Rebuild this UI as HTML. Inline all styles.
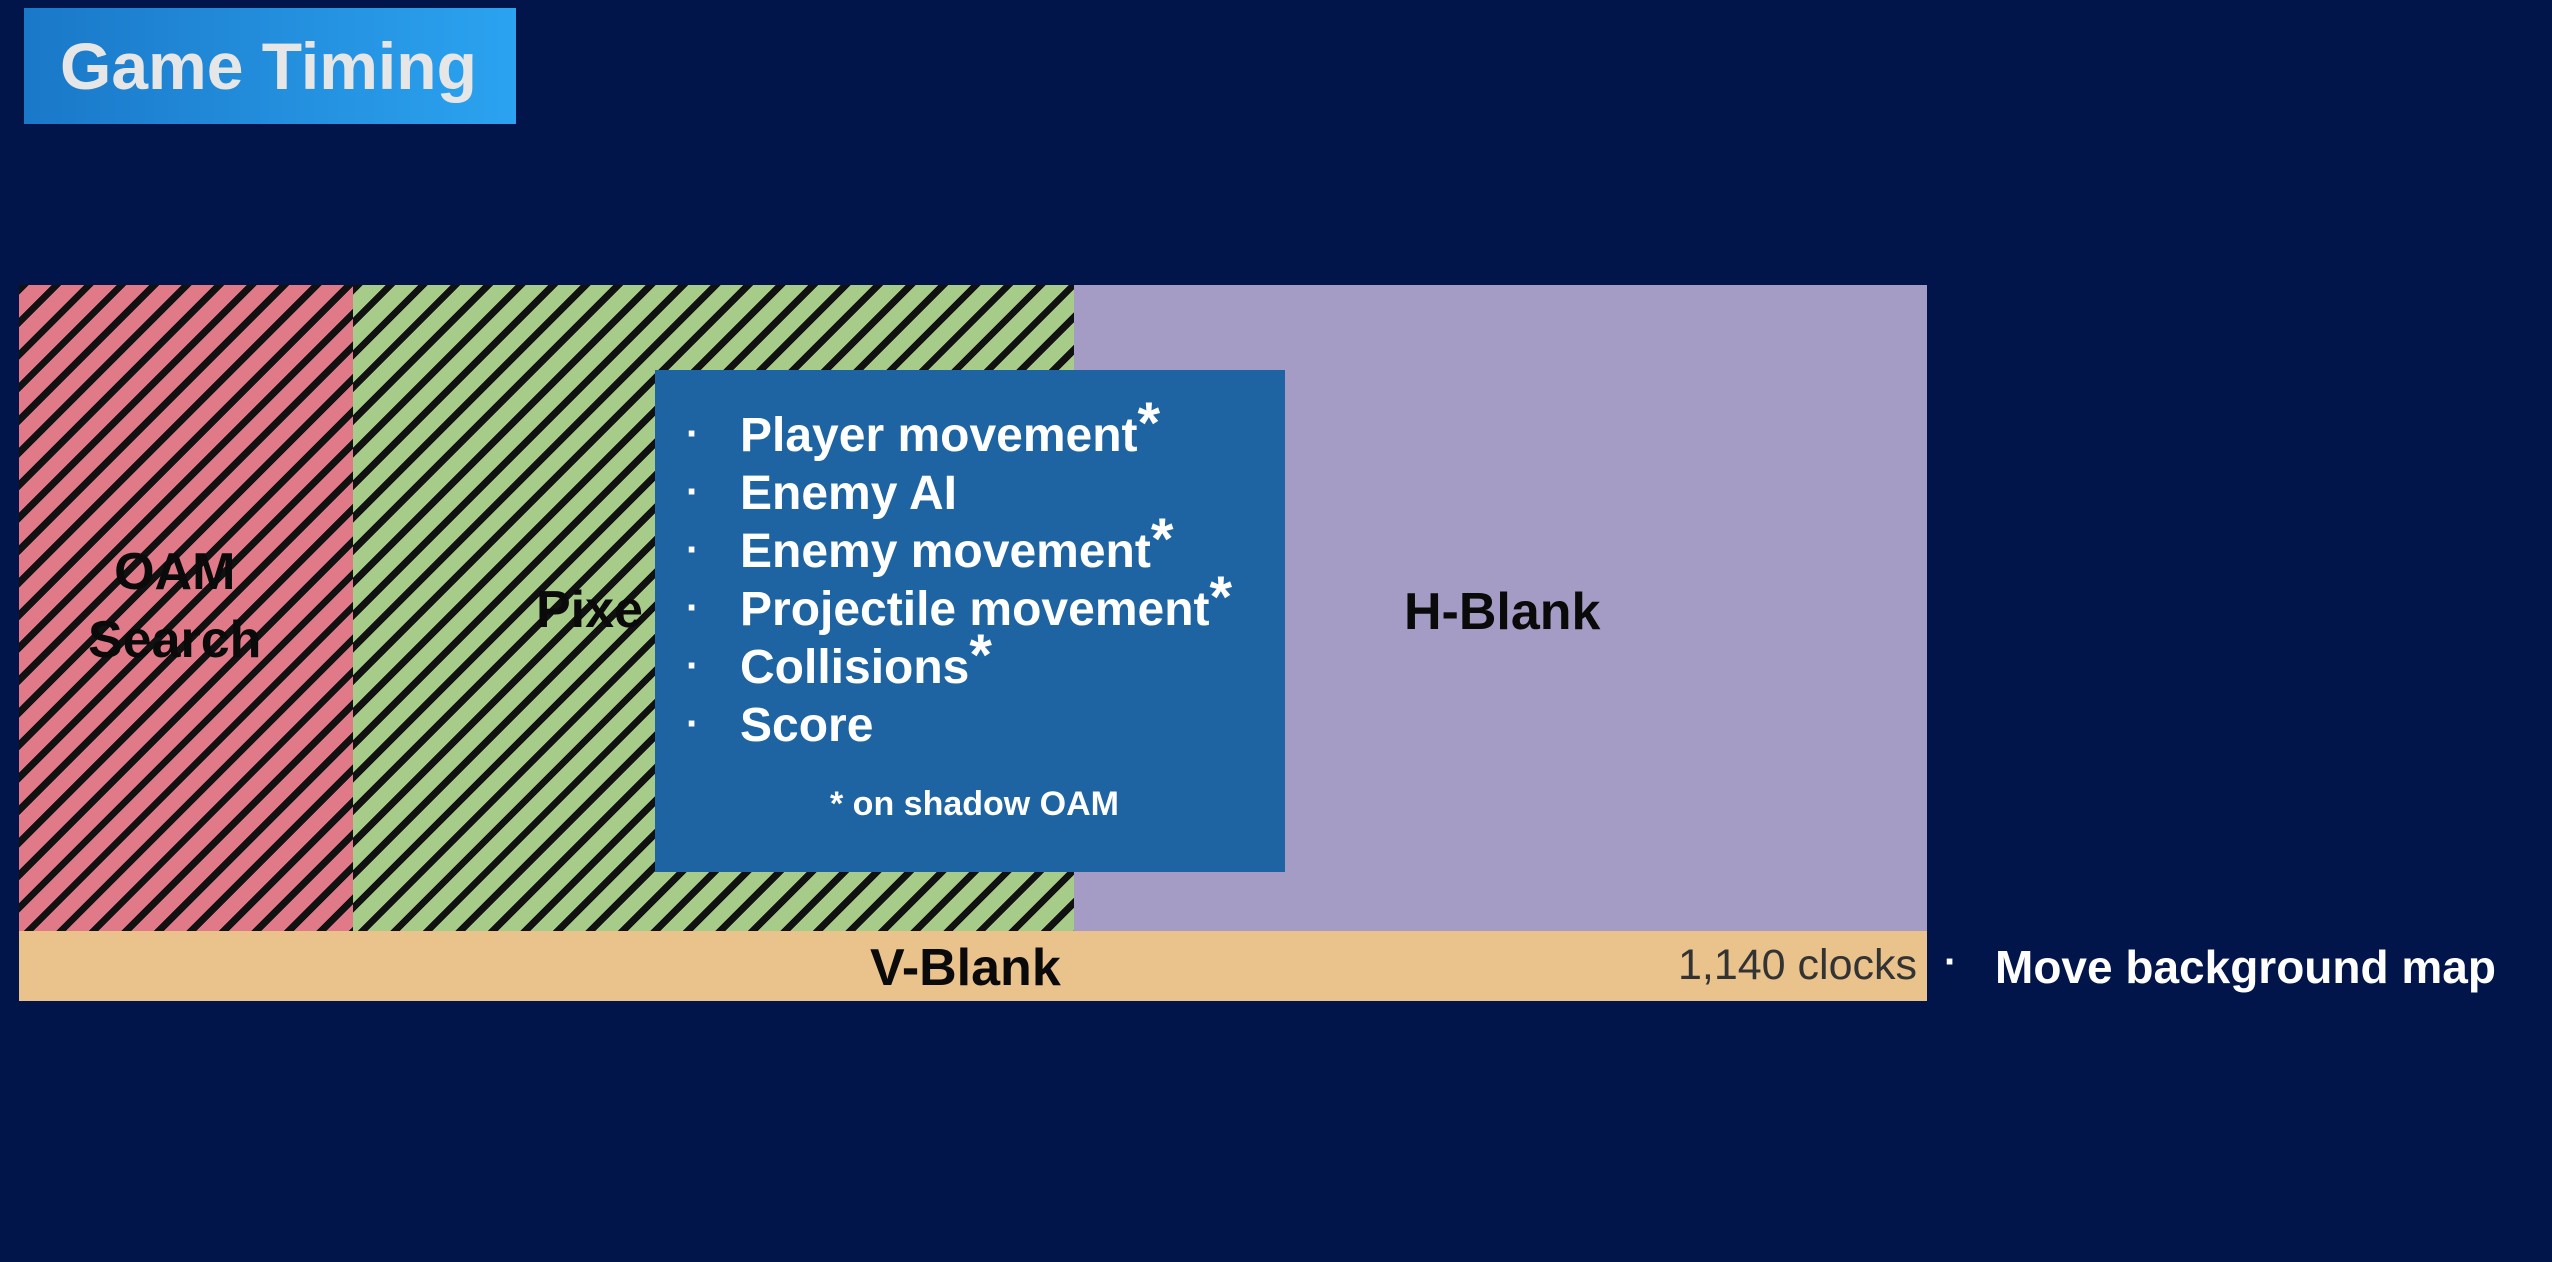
<!DOCTYPE html>
<html><head><meta charset="utf-8">
<style>
html,body{margin:0;padding:0;}
body{width:2552px;height:1262px;background:#01154a;position:relative;overflow:hidden;font-family:"Liberation Sans",sans-serif;}
.abs{position:absolute;}
.stripe{background-image:repeating-linear-gradient(135deg,#111 0 7px,transparent 7px 23px);}
.lbl{font-weight:bold;color:#0a0a0a;font-size:52px;white-space:nowrap;}
.li{position:absolute;left:740px;color:#fff;font-weight:bold;font-size:48px;line-height:56px;height:56px;white-space:nowrap;}
.li span{position:relative;top:-8px;font-size:58px;line-height:0;}
.dot{position:absolute;left:686px;color:#fff;font-size:40px;font-weight:bold;line-height:56px;}
</style></head><body>
<div class="abs" style="left:24px;top:8px;width:492px;height:116px;background:linear-gradient(90deg,#1a78c8,#2ba3f0);"></div>
<div class="abs" style="left:60px;top:28px;font-size:66px;font-weight:bold;color:#e6e6e6;">Game Timing</div>

<div class="abs stripe" style="left:19px;top:285px;width:334px;height:646px;background-color:#e07a88;"></div>
<div class="abs stripe" style="left:353px;top:285px;width:721px;height:646px;background-color:#a7cc8a;"></div>
<div class="abs" style="left:1074px;top:285px;width:853px;height:646px;background:#a59cc5;"></div>
<div class="abs" style="left:19px;top:931px;width:1908px;height:70px;background:#e9c28c;"></div>

<div class="abs lbl" style="left:88px;top:538px;text-align:center;line-height:68px;">OAM<br>Search</div>
<div class="abs lbl" style="left:536px;top:580px;">Pixe</div>
<div class="abs lbl" style="left:1404px;top:582px;">H-Blank</div>
<div class="abs lbl" style="left:870px;top:938px;">V-Blank</div>
<div class="abs" style="left:1620px;top:941px;width:297px;text-align:right;font-size:43px;color:#333;">1,140 clocks</div>
<div class="abs" style="left:1944px;top:940px;font-size:40px;font-weight:bold;color:#fff;">·</div>
<div class="abs" style="left:1995px;top:940px;font-size:46px;font-weight:bold;color:#fff;">Move background map</div>

<div class="abs" style="left:655px;top:370px;width:630px;height:502px;background:#1e63a2;"></div>
<div class="dot" style="top:406px;">·</div>
<div class="li" style="top:408px;">Player movement<span>*</span></div>
<div class="dot" style="top:464px;">·</div>
<div class="li" style="top:466px;">Enemy AI</div>
<div class="dot" style="top:522px;">·</div>
<div class="li" style="top:524px;">Enemy movement<span>*</span></div>
<div class="dot" style="top:580px;">·</div>
<div class="li" style="top:582px;">Projectile movement<span>*</span></div>
<div class="dot" style="top:638px;">·</div>
<div class="li" style="top:640px;">Collisions<span>*</span></div>
<div class="dot" style="top:696px;">·</div>
<div class="li" style="top:698px;">Score</div>
<div class="abs" style="left:830px;top:785px;font-size:34px;font-weight:bold;color:#fff;">* on shadow OAM</div>
</body></html>
